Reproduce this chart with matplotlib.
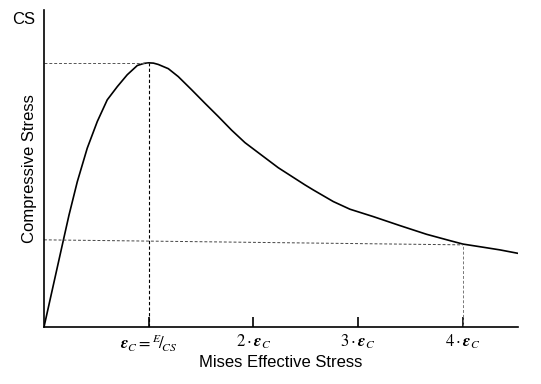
import matplotlib
matplotlib.use('Agg')
import matplotlib.pyplot as plt

plt.rcParams['mathtext.fontset'] = 'stix'
plt.rcParams['font.family'] = ['Liberation Sans', 'DejaVu Sans']

# strain in units of eps_c, stress in units of CS
strain = [0.0, 0.175, 0.239, 0.318, 0.413, 0.509, 0.604, 0.700, 0.795, 0.891,
          0.955, 1.0, 1.045, 1.091, 1.187, 1.282, 1.410, 1.537, 1.664, 1.792,
          1.919, 2.046, 2.237, 2.492, 2.571, 2.762, 2.921, 3.144, 3.398, 3.653,
          3.876, 4.0, 4.194, 4.353, 4.525]
stress = [0.0, 0.311, 0.424, 0.550, 0.677, 0.778, 0.860, 0.910, 0.955, 0.990,
          0.998, 1.0, 0.999, 0.994, 0.978, 0.948, 0.898, 0.847, 0.797, 0.745,
          0.698, 0.660, 0.603, 0.538, 0.519, 0.475, 0.446, 0.418, 0.384, 0.351,
          0.327, 0.314, 0.302, 0.292, 0.279]

tick_pos = [1, 2, 3, 4]
tick_labels = [r'$\mathbfit{\varepsilon}_C = {}^{E}\!/\!_{CS}$',
               r'$2\cdot\mathbfit{\varepsilon}_C$',
               r'$3\cdot\mathbfit{\varepsilon}_C$',
               r'$4\cdot\mathbfit{\varepsilon}_C$']

peak_x, peak_y = 1.0, 1.0
ref_x, ref_y = 4.0, 0.311
ref_y0 = 0.330

fig = plt.figure(figsize=(5.41, 3.84), dpi=100)
ax = fig.add_axes([0.0813, 0.1484, 0.876, 0.8255])

ax.plot(strain, stress, color='black', lw=1.2, solid_joinstyle='round')

# guide lines
ax.plot([0, peak_x], [peak_y, peak_y], color='#555555', lw=0.7, ls=(0, (3, 2)))
ax.plot([peak_x, peak_x], [0, peak_y], color='black', lw=0.8, ls=(0, (3, 2)))
ax.plot([0, ref_x], [ref_y0, ref_y], color='#444444', lw=0.7, ls=(0, (3, 2)))
ax.plot([ref_x, ref_x], [0, ref_y], color='#777777', lw=0.7, ls=(0, (3, 2)))

ax.set_xlim(0, 4.525)
ax.set_ylim(0, 1.2)
ax.spines['top'].set_visible(False)
ax.spines['right'].set_visible(False)
ax.spines['left'].set_linewidth(1.2)
ax.spines['bottom'].set_linewidth(1.2)

ax.set_xticks(tick_pos)
ax.set_xticklabels(tick_labels, fontsize=12)
ax.tick_params(axis='x', direction='in', length=7, width=1.2, pad=4)
ax.set_yticks([])

ax.set_xlabel('Mises Effective Stress', fontsize=12, labelpad=1)
ax.set_ylabel('Compressive Stress', fontsize=12)
ax.yaxis.set_label_coords(-0.015, 0.5)
ax.text(-0.086, 1.163, 'CS', fontsize=12, ha='right', va='center')

fig.savefig('out.png', dpi=100)
